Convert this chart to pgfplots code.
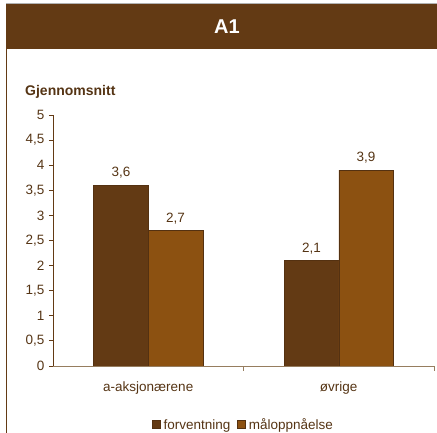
\documentclass[border=0pt]{standalone}
\usepackage{pgfplots}
\pgfplotsset{compat=1.18}
\usepackage{fontspec}
\setmainfont{Liberation Sans}[BoldFont={Liberation Sans Bold}]
\definecolor{darkb}{RGB}{99,58,20}
\definecolor{lightb}{RGB}{140,81,17}
\definecolor{txtb}{RGB}{85,52,20}
\definecolor{axb}{RGB}{150,125,95}
\begin{document}
\begin{tikzpicture}[x=1pt,y=1pt]
\path[use as bounding box] (0,0) rectangle (437,433);
\fill[darkb] (6,384) rectangle (437,430);
\draw[gray!60] (6,430) -- (437,430);
\draw[darkb, line width=1pt] (6.5,0) -- (6.5,384);
\node[text=white, font=\bfseries\fontsize{20}{24}\selectfont] at (227,406) {A1};
\node[anchor=west, inner sep=0pt, text=txtb, font=\bfseries\fontsize{14}{17}\selectfont] at (25,341) {Gjennomsnitt};
\begin{axis}[
  at={(53pt,67pt)}, anchor=south west,
  scale only axis, width=381pt, height=251pt,
  xmin=-0.5, xmax=1.5, ymin=0, ymax=5,
  ybar=0pt, bar width=54.5pt,
  axis x line*=bottom, axis y line*=left,
  x axis line style={draw=axb, line width=0.8pt},
  y axis line style={draw=darkb, line width=0.8pt},
  xtick={0,1}, xticklabels={a-aksjonærene, øvrige},
  major x tick style={draw=none},
  minor xtick={0.5,1.5},
  minor x tick style={draw=axb, line width=0.8pt},
  minor tick length=5pt,
  ytick={0,0.5,1,1.5,2,2.5,3,3.5,4,4.5,5},
  y tick style={draw=darkb, line width=0.8pt},
  major tick length=4pt,
  tick align=outside,
  /pgf/number format/assume math mode=true,
  /pgf/number format/use comma,
  tick label style={font=\fontsize{13.5}{16}\selectfont, text=txtb},
  yticklabel style={xshift=-1pt},
  xticklabel style={yshift=-8pt},
  nodes near coords,
  nodes near coords style={font=\fontsize{13.5}{16}\selectfont, text=txtb, yshift=3pt,
    /pgf/number format/.cd, fixed, precision=1, fixed zerofill, use comma, assume math mode=true},
  legend style={at={(0.5,-0.235)}, anchor=center, draw=none, fill=none,
    legend columns=2, font=\fontsize{13.5}{16}\selectfont, text=txtb,
    /tikz/every odd column/.append style={column sep=1pt},
    /tikz/every even column/.append style={column sep=5pt}},
  legend image code/.code={\fill[#1] (0pt,-3pt) rectangle (8pt,5pt);},
]
\addplot[fill=darkb, draw=darkb!85!black, line width=0.5pt] coordinates {(0,3.6) (1,2.1)};
\addplot[fill=lightb, draw=darkb!85!black, line width=0.5pt] coordinates {(0,2.7) (1,3.9)};
\legend{forventning, måloppnåelse}
\end{axis}
\end{tikzpicture}
\end{document}
